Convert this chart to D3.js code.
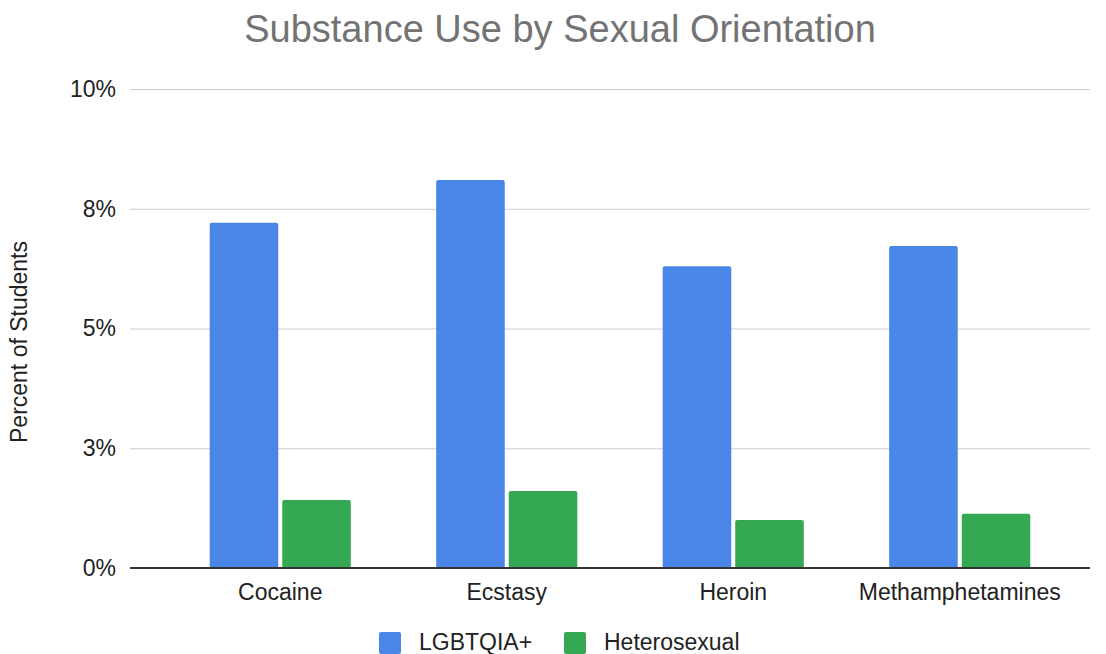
<!DOCTYPE html>
<html>
<head>
<meta charset="utf-8">
<script src="https://cdn.jsdelivr.net/npm/d3@7"></script>
<style>
  html, body { margin: 0; padding: 0; background: #fff; }
  svg { display: block; font-family: Arial, "Liberation Sans", sans-serif; }
</style>
</head>
<body>
<svg id="chart" width="1106" height="654"></svg>
<script>
// Share of students reporting use, by substance and orientation (percent)
const substances = ["Cocaine", "Ecstasy", "Heroin", "Methamphetamines"];
const seriesNames = ["LGBTQIA+", "Heterosexual"];
const lgbtqiaValues = [7.21, 8.10, 6.30, 6.72];
const heterosexualValues = [1.42, 1.61, 1.00, 1.13];
const tickValues = [0, 2.5, 5, 7.5, 10];
const tickLabels = ["0%", "3%", "5%", "8%", "10%"];
const seriesColors = ["#4a86e8", "#34a853"];

const rows = substances.map((name, i) => ({
  name,
  values: [lgbtqiaValues[i], heterosexualValues[i]]
}));

const svg = d3.select("#chart");
const gridLeft = 130, gridRight = 1090;
const plotTop = 89, plotBottom = 568;

const y = d3.scaleLinear().domain([0, 10]).range([plotBottom, plotTop]);
const x = d3.scaleBand().domain(substances).range([167, 1073])
  .paddingInner(0.377).paddingOuter(0.1885);
const xInner = d3.scaleBand().domain(seriesNames).range([0, x.bandwidth()])
  .paddingInner(0.055).paddingOuter(0);

// Title
svg.append("text")
  .attr("x", 560).attr("y", 42)
  .attr("text-anchor", "middle")
  .attr("font-size", 38)
  .attr("fill", "#737373")
  .text("Substance Use by Sexual Orientation");

// Horizontal gridlines with tick labels
const yAxis = d3.axisLeft(y)
  .tickValues(tickValues)
  .tickSize(-(gridRight - gridLeft))
  .tickPadding(14)
  .tickFormat((d, i) => tickLabels[i]);

const yAxisG = svg.append("g")
  .attr("transform", `translate(${gridLeft},0)`)
  .call(yAxis);
yAxisG.select(".domain").remove();
yAxisG.selectAll(".tick line").attr("stroke", "#cccccc").attr("stroke-width", 1);
yAxisG.selectAll(".tick text")
  .attr("font-size", 23)
  .attr("fill", "#222222")
  .attr("font-family", "Arial, 'Liberation Sans', sans-serif");

// Y axis title
svg.append("text")
  .attr("transform", "translate(27,342) rotate(-90)")
  .attr("text-anchor", "middle")
  .attr("font-size", 23)
  .attr("fill", "#222222")
  .text("Percent of Students");

// Bars
const groups = svg.append("g").selectAll("g")
  .data(rows)
  .join("g")
  .attr("transform", d => `translate(${x(d.name)},0)`);

groups.selectAll("rect")
  .data(d => d.values.map((v, i) => ({ series: seriesNames[i], value: v, idx: i })))
  .join("rect")
  .attr("x", d => xInner(d.series))
  .attr("y", d => y(d.value))
  .attr("width", xInner.bandwidth())
  .attr("height", d => y(0) - y(d.value))
  .attr("rx", 2)
  .attr("fill", d => seriesColors[d.idx]);

// Baseline
svg.append("line")
  .attr("x1", gridLeft).attr("x2", gridRight)
  .attr("y1", y(0)).attr("y2", y(0))
  .attr("stroke", "#333333").attr("stroke-width", 2);

// Category labels
const xAxis = d3.axisBottom(x).tickSize(0).tickPadding(16);
const xAxisG = svg.append("g")
  .attr("transform", `translate(0,${plotBottom})`)
  .call(xAxis);
xAxisG.select(".domain").remove();
xAxisG.selectAll(".tick text")
  .attr("font-size", 23)
  .attr("fill", "#222222")
  .attr("font-family", "Arial, 'Liberation Sans', sans-serif");

// Legend
const legendItems = [
  { name: seriesNames[0], color: seriesColors[0], x: 379 },
  { name: seriesNames[1], color: seriesColors[1], x: 564 }
];
const legend = svg.append("g");
legendItems.forEach(item => {
  legend.append("rect")
    .attr("x", item.x).attr("y", 632)
    .attr("width", 22).attr("height", 22)
    .attr("rx", 2)
    .attr("fill", item.color);
  legend.append("text")
    .attr("x", item.x + 40).attr("y", 650)
    .attr("font-size", 23)
    .attr("fill", "#222222")
    .text(item.name);
});
</script>
</body>
</html>
